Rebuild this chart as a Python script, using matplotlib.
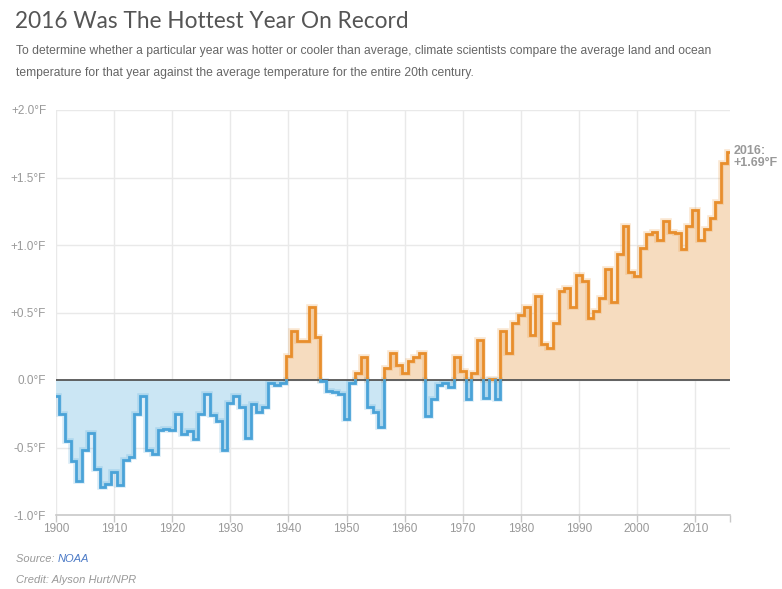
import numpy as np
import matplotlib
matplotlib.use("Agg")
import matplotlib.pyplot as plt

years = list(range(1900, 2017))
anomaly_f = [
    -0.12, -0.25, -0.45, -0.60, -0.75, -0.52, -0.39, -0.66, -0.79, -0.77,
    -0.68, -0.78, -0.59, -0.57, -0.25, -0.12, -0.52, -0.55, -0.37, -0.36,
    -0.37, -0.25, -0.40, -0.38, -0.44, -0.25, -0.10, -0.26, -0.30, -0.52,
    -0.17, -0.12, -0.20, -0.43, -0.18, -0.24, -0.20, -0.02, -0.04, -0.02,
    0.18, 0.36, 0.29, 0.29, 0.54, 0.32, -0.01, -0.08, -0.09, -0.10,
    -0.29, -0.02, 0.05, 0.17, -0.20, -0.24, -0.35, 0.09, 0.20, 0.11,
    0.05, 0.14, 0.17, 0.20, -0.27, -0.14, -0.04, -0.02, -0.05, 0.17,
    0.07, -0.14, 0.05, 0.30, -0.13, 0.01, -0.14, 0.36, 0.20, 0.42,
    0.48, 0.54, 0.33, 0.62, 0.27, 0.24, 0.42, 0.66, 0.68, 0.54,
    0.78, 0.73, 0.46, 0.51, 0.61, 0.82, 0.58, 0.93, 1.14, 0.80,
    0.77, 0.98, 1.08, 1.10, 1.04, 1.18, 1.10, 1.09, 0.97, 1.14,
    1.26, 1.04, 1.12, 1.20, 1.32, 1.61, 1.69,
]
x_ticks = list(range(1900, 2011, 10))
x_tick_labels = [str(y) for y in x_ticks]
y_ticks = [-1.0, -0.5, 0.0, 0.5, 1.0, 1.5, 2.0]
y_tick_labels = ["-1.0°F", "-0.5°F", "0.0°F", "+0.5°F", "+1.0°F", "+1.5°F", "+2.0°F"]

title = "2016 Was The Hottest Year On Record"
subtitle = ("To determine whether a particular year was hotter or cooler than average, climate scientists compare the average land and ocean\n"
            "temperature for that year against the average temperature for the entire 20th century.")
annotation = "2016:\n+1.69°F"

W, H = 782, 589
fig = plt.figure(figsize=(W / 100, H / 100), dpi=100)
fig.patch.set_facecolor("white")

def fx(px):
    return px / W

def fy(py):
    return 1 - py / H

ax = fig.add_axes([fx(56), fy(515), fx(730) - fx(56), fy(110) - fy(515)])
x0, x1 = years[0], years[-1]
ax.set_xlim(x0, x1)
ax.set_ylim(-1.0, 2.0)

v = np.array(anomaly_f, dtype=float)
yr = np.array(years, dtype=float)
n = len(v)
edges = np.concatenate([[x0], (yr[:-1] + yr[1:]) / 2, [x1]])

X = np.repeat(edges, 2)[1:-1]
Y = np.repeat(v, 2)

blue_line = "#4aa3d8"
blue_fill = "#cbe6f4"
orange_line = "#e88e2c"
orange_fill = "#f6dcbf"
grid_c = "#e9e9e9"

ax.fill_between(X, 0, np.maximum(Y, 0), color=orange_fill, lw=0, zorder=2)
ax.fill_between(X, 0, np.minimum(Y, 0), color=blue_fill, lw=0, zorder=2)

def build(sign):
    xs, ys = [], []
    ok = (v >= 0) if sign > 0 else (v < 0)
    for i in range(n):
        if not ok[i]:
            continue
        if i > 0 and not ok[i - 1]:
            xs.append(edges[i]); ys.append(0.0)
        xs += [edges[i], edges[i + 1]]
        ys += [v[i], v[i]]
        if i < n - 1 and not ok[i + 1]:
            xs += [edges[i + 1], np.nan]
            ys += [0.0, np.nan]
    return xs, ys

xs, ys = build(1)
ax.plot(xs, ys, color=orange_line, lw=4.0, alpha=0.22, solid_joinstyle="miter", zorder=3)
ax.plot(xs, ys, color=orange_line, lw=2.0, solid_joinstyle="miter", zorder=4)
xs, ys = build(-1)
ax.plot(xs, ys, color=blue_line, lw=4.0, alpha=0.22, solid_joinstyle="miter", zorder=3)
ax.plot(xs, ys, color=blue_line, lw=2.0, solid_joinstyle="miter", zorder=4)

ax.axhline(0, color="#555555", lw=1.3, zorder=3.5)

# grid
for xt in x_ticks:
    ax.axvline(xt, color=grid_c, lw=1, zorder=1)
for yt in y_ticks:
    if yt != -1.0:
        ax.axhline(yt, color=grid_c, lw=1, zorder=1)

for s in ["top", "right", "left"]:
    ax.spines[s].set_visible(False)
ax.spines["bottom"].set_color("#c8c8c8")
ax.spines["bottom"].set_linewidth(1.2)

ax.set_xticks(x_ticks + [x1])
ax.set_xticklabels(x_tick_labels + [""])
ax.set_yticks(y_ticks)
ax.set_yticklabels(y_tick_labels)
ax.tick_params(axis="x", length=5, width=1, color="#c8c8c8", pad=0.5,
               labelsize=8.5, labelcolor="#999999")
ax.tick_params(axis="y", length=0, pad=7, labelsize=8.5, labelcolor="#999999")
for lab in ax.get_xticklabels() + ax.get_yticklabels():
    lab.set_fontfamily("Liberation Sans")

ax.text(x1 + 0.6, 1.65, annotation, ha="left", va="center",
        fontsize=9, fontweight="bold", color="#999999",
        family="Liberation Sans", linespacing=1.05, clip_on=False)

fig.text(fx(15), fy(21), title, fontsize=16.3, color="#555555",
         family="Lato", fontweight="normal", va="center", ha="left")
fig.text(fx(16), fy(62), subtitle, fontsize=8.75, color="#666666",
         family="Liberation Sans", va="center", ha="left", linespacing=2.1)

t1 = fig.text(fx(16), fy(559), "Source: ", fontsize=8, color="#999999",
              family="Liberation Sans", style="italic", va="center", ha="left")
fig.canvas.draw()
bb = t1.get_window_extent()
fig.text(bb.x1 / W, fy(559), "NOAA", fontsize=8, color="#4a79c6",
         family="Liberation Sans", style="italic", va="center", ha="left")
fig.text(fx(16), fy(580), "Credit: Alyson Hurt/NPR", fontsize=8, color="#999999",
         family="Liberation Sans", style="italic", va="center", ha="left")

fig.savefig("out.png", dpi=100, facecolor="white")
